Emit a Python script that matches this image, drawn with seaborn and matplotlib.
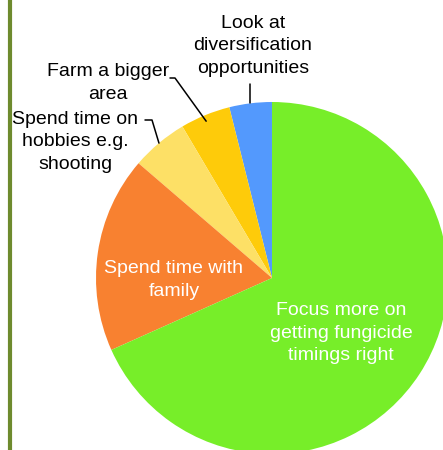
import numpy as np
import pandas as pd
import matplotlib
matplotlib.use("Agg")
import matplotlib.pyplot as plt
import seaborn as sns

# ---- data (counter-clockwise from 12 o'clock) ----
categories = [
    "Look at\ndiversification\nopportunities",
    "Farm a bigger\narea",
    "Spend time on\nhobbies e.g.\nshooting",
    "Spend time with\nfamily",
    "Focus more on\ngetting fungicide\ntimings right",
]
values = [3.9, 4.6, 5.2, 18.0, 68.3]
colors = ["#5399FD", "#FECB0A", "#FDE066", "#F88130", "#77EE29"]

sns.set_theme(style="white")
plt.rcParams["font.family"] = ["Liberation Sans", "DejaVu Sans"]

df = pd.DataFrame({"category": categories, "value": values})

W, H = 443, 450
fig = plt.figure(figsize=(W / 100, H / 100), dpi=100)
ax = fig.add_axes([0, 0, 1, 1])
ax.set_axis_off()

cx, cy, R = 272, H - 278, 176
wedges, _ = ax.pie(df["value"], colors=colors, startangle=90, counterclock=True,
                   center=(cx, cy), radius=R, wedgeprops=dict(linewidth=0))
ax.set_xlim(0, W)
ax.set_ylim(0, H)
ax.set_aspect("auto")

def edge_point(w):
    a = np.deg2rad((w.theta1 + w.theta2) / 2)
    return cx + R * np.cos(a), cy + R * np.sin(a)

fs = 14
ls = 1.4
# outside labels
ax.text(253, H - 46, df["category"][0], ha="center", va="center", fontsize=fs,
        linespacing=ls, color="black")
ax.text(108, H - 83, df["category"][1], ha="center", va="center", fontsize=fs,
        linespacing=ls, color="black")
ax.text(75, H - 142, df["category"][2], ha="center", va="center", fontsize=fs,
        linespacing=ls, color="black")
# inside labels
ax.text(174, H - 280, df["category"][3], ha="center", va="center", fontsize=fs,
        linespacing=ls, color="white")
ax.text(341, H - 333, df["category"][4], ha="center", va="center", fontsize=fs,
        linespacing=ls, color="white")

# leader lines
px, py = edge_point(wedges[0])
ax.plot([px, px], [H - 84, py], color="black", lw=1.1)
px, py = edge_point(wedges[1])
ax.plot([170, 175, px + 1], [H - 78, H - 78, py - 6], color="black", lw=1.1)
px, py = edge_point(wedges[2])
ax.plot([145, 152, px], [H - 120, H - 120, py], color="black", lw=1.1)

# olive vertical rule on the left
ax.axvline(10.5, color="#6E8B2E", lw=3)

fig.savefig("out.png", dpi=100)
